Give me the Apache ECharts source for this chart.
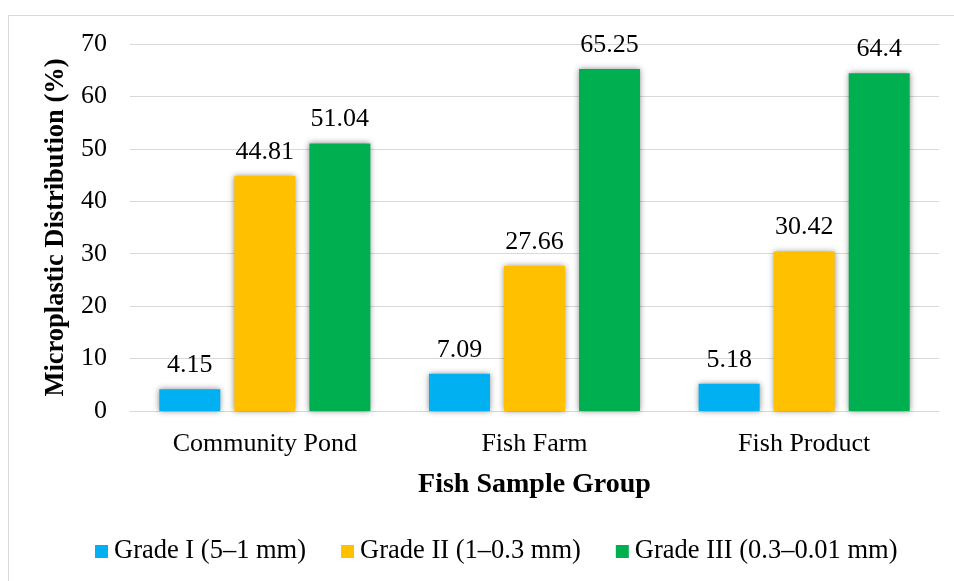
<!DOCTYPE html>
<html><head><meta charset="utf-8">
<script src="https://cdn.jsdelivr.net/npm/echarts@6/dist/echarts.min.js"></script>
<style>html,body{margin:0;padding:0;background:#fff}#c{width:954px;height:581px}</style>
</head><body><div id="c"></div>
<script>
const categories = ['Community Pond', 'Fish Farm', 'Fish Product'];
const seriesNames = ['Grade I (5–1 mm)', 'Grade II (1–0.3 mm)', 'Grade III (0.3–0.01 mm)'];
const gradeI = [4.15, 7.09, 5.18];
const gradeII = [44.81, 27.66, 30.42];
const gradeIII = [51.04, 65.25, 64.4];
const colors = ['#00b0f0', '#ffc000', '#00b050'];
const yTicks = [0, 10, 20, 30, 40, 50, 60, 70];

const font = "'Liberation Serif', 'Times New Roman', serif";
const chart = echarts.init(document.getElementById('c'));
const mk = (name, data, color) => ({
  name, type: 'bar', data, barWidth: 61, barGap: '23%',
  itemStyle: { color, shadowBlur: 6, shadowColor: 'rgba(0,0,0,0.45)', shadowOffsetX: 0, shadowOffsetY: 0 },
  label: { show: true, position: 'top', distance: 11, color: '#000', fontFamily: font, fontSize: 26 }
});
chart.setOption({
  animation: false,
  color: colors,
  textStyle: { fontFamily: font },
  graphic: [{ type: 'rect', shape: { x: 8.5, y: 15.5, width: 960, height: 580 }, style: { fill: 'none', stroke: '#d9d9d9', lineWidth: 1 }, silent: true }],
  grid: { left: 130, right: 15, top: 44, bottom: 170, containLabel: false },
  legend: {
    bottom: 11, left: 90, itemWidth: 13, itemHeight: 13, itemGap: 35,
    icon: 'rect',
    textStyle: { fontFamily: font, fontSize: 26.5, color: '#000', padding: [0, 0, 0, 1] },
    data: seriesNames
  },
  xAxis: {
    type: 'category', data: categories,
    name: 'Fish Sample Group', nameLocation: 'middle', nameGap: 60,
    nameTextStyle: { fontFamily: font, fontSize: 28, fontWeight: 'bold', color: '#000' },
    axisLine: { lineStyle: { color: '#d9d9d9', width: 1 } },
    axisTick: { show: false },
    axisLabel: { fontFamily: font, fontSize: 26, color: '#000', margin: 20 }
  },
  yAxis: {
    type: 'value', min: 0, max: 70, interval: 10,
    name: 'Microplastic Distribution (%)', nameLocation: 'middle', nameGap: 60, nameRotate: 90,
    nameTextStyle: { fontFamily: font, fontSize: 26.5, fontWeight: 'bold', color: '#000' },
    axisLine: { show: false }, axisTick: { show: false },
    splitLine: { lineStyle: { color: '#d9d9d9', width: 1 } },
    axisLabel: { fontFamily: font, fontSize: 26, color: '#000', margin: 23,
      formatter: v => yTicks.includes(v) ? String(v) : '' }
  },
  series: [mk(seriesNames[0], gradeI, colors[0]), mk(seriesNames[1], gradeII, colors[1]), mk(seriesNames[2], gradeIII, colors[2])]
});
</script></body></html>
